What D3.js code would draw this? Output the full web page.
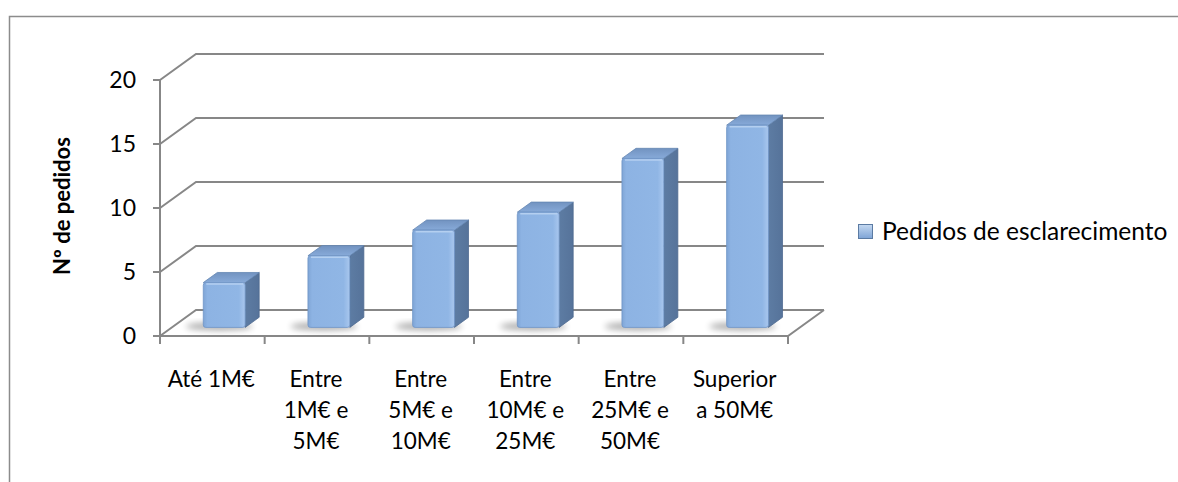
<!DOCTYPE html>
<html>
<head>
<meta charset="utf-8">
<script src="https://cdn.jsdelivr.net/npm/d3@7"></script>
<style>
  html, body { margin: 0; padding: 0; background: #fff; }
  svg { display: block; font-family: Lato, "Open Sans", sans-serif; }
</style>
</head>
<body>
<svg id="chart"></svg>
<script>
// data
const categories = ["Até 1M€", "Entre 1M€ e 5M€", "Entre 5M€ e 10M€", "Entre 10M€ e 25M€", "Entre 25M€ e 50M€", "Superior a 50M€"];
const categoryLines = [
    ["Até 1M€"],
    ["Entre", "1M€ e", "5M€"],
    ["Entre", "5M€ e", "10M€"],
    ["Entre", "10M€ e", "25M€"],
    ["Entre", "25M€ e", "50M€"],
    ["Superior", "a 50M€"],
];
const values = [3.5, 5.6, 7.6, 9.0, 13.2, 15.8];
const yTicks = [0, 5, 10, 15, 20];
const seriesName = "Pedidos de esclarecimento";
const yTitle = "Nº de pedidos";

const width = 1178;
const height = 482;
const gridColor = "#878787";

const svg = d3.select("#chart").attr("width", width).attr("height", height);

// chart area border (runs off the right and bottom edges)
svg.append("rect")
    .attr("x", 9.5).attr("y", 16.5)
    .attr("width", width + 20).attr("height", height + 20)
    .attr("fill", "#fff")
    .attr("stroke", "#8c8c8c")
    .attr("stroke-width", 1.5);

// scales: front plane + depth offset
const x = d3.scaleBand().domain(categories).range([160, 788]);
const y = d3.scaleLinear().domain([0, 20]).range([336, 80]);
const zx = d3.scaleLinear().domain([0, 1]).range([0, 36]);
const zy = d3.scaleLinear().domain([0, 1]).range([0, -26]);

const defs = svg.append("defs");

const frontGrad = defs.append("linearGradient").attr("id", "front").attr("x1", 0).attr("x2", 1).attr("y1", 0).attr("y2", 0);
frontGrad.append("stop").attr("offset", "0%").attr("stop-color", "#7fa5d6");
frontGrad.append("stop").attr("offset", "10%").attr("stop-color", "#8db3e3");
frontGrad.append("stop").attr("offset", "85%").attr("stop-color", "#90b6e5");
frontGrad.append("stop").attr("offset", "100%").attr("stop-color", "#a9c7ee");

const sideGrad = defs.append("linearGradient").attr("id", "side").attr("x1", 0).attr("x2", 1).attr("y1", 0).attr("y2", 0);
sideGrad.append("stop").attr("offset", "0%").attr("stop-color", "#5d7ca3");
sideGrad.append("stop").attr("offset", "100%").attr("stop-color", "#56739a");

const topGrad = defs.append("linearGradient").attr("id", "top").attr("x1", 0).attr("x2", 0).attr("y1", 1).attr("y2", 0);
topGrad.append("stop").attr("offset", "0%").attr("stop-color", "#87aad9");
topGrad.append("stop").attr("offset", "100%").attr("stop-color", "#7293c0");

const legGrad = defs.append("linearGradient").attr("id", "leg").attr("x1", 0).attr("x2", 0).attr("y1", 0).attr("y2", 1);
legGrad.append("stop").attr("offset", "0%").attr("stop-color", "#c5d9f1");
legGrad.append("stop").attr("offset", "100%").attr("stop-color", "#7ea4d6");

defs.append("filter").attr("id", "blur").attr("x", "-50%").attr("y", "-50%").attr("width", "200%").attr("height", "200%")
    .append("feGaussianBlur").attr("stdDeviation", 3);

const g = svg.append("g");

// back wall gridlines + left wall diagonals
yTicks.forEach(v => {
    const yf = y(v);
    g.append("path")
        .attr("d", `M${x.range()[0]},${yf} L${x.range()[0] + zx(1)},${yf + zy(1)} L${x.range()[1] + zx(1)},${yf + zy(1)}`)
        .attr("fill", "none")
        .attr("stroke", gridColor)
        .attr("stroke-width", 2);
});

// floor front and right edges
const x0 = x.range()[0], x1 = x.range()[1], y0 = y(0);
g.append("path")
    .attr("d", `M${x0},${y0} L${x1},${y0} L${x1 + zx(1)},${y0 + zy(1)}`)
    .attr("fill", "none")
    .attr("stroke", gridColor)
    .attr("stroke-width", 2);

// vertical axis line and ticks
g.append("line")
    .attr("x1", x0).attr("x2", x0)
    .attr("y1", y(20)).attr("y2", y0)
    .attr("stroke", gridColor).attr("stroke-width", 2);

g.selectAll(".ytick").data(yTicks).enter().append("line")
    .attr("x1", x0 - 7).attr("x2", x0)
    .attr("y1", d => y(d)).attr("y2", d => y(d))
    .attr("stroke", gridColor).attr("stroke-width", 2);

// category boundary ticks
const boundaries = categories.map(c => x(c)).concat([x1]);
g.selectAll(".xtick").data(boundaries).enter().append("line")
    .attr("x1", d => d).attr("x2", d => d)
    .attr("y1", y0).attr("y2", y0 + 8)
    .attr("stroke", gridColor).attr("stroke-width", 2);

// bars
const zFront = 0.33, zBack = 0.72;
const barW = x.bandwidth() * 0.4;
const bdx = zx(zBack) - zx(zFront), bdy = zy(zBack) - zy(zFront);

const bars = g.selectAll(".bar").data(values).enter().append("g").attr("class", "bar");

bars.each(function (v, i) {
    const bar = d3.select(this);
    const cx = x(categories[i]) + x.bandwidth() / 2 + zx(zFront);
    const xl = cx - barW / 2, xr = cx + barW / 2;
    const yb = y(0) + zy(zFront);
    const yt = y(v) + zy(zFront);

    // shadow on the floor
    bar.append("ellipse")
        .attr("cx", cx - 5).attr("cy", yb - 1)
        .attr("rx", barW * 0.8).attr("ry", 4)
        .attr("fill", "#000").attr("opacity", 0.32)
        .attr("filter", "url(#blur)");

    // side face
    bar.append("path")
        .attr("d", `M${xr},${yt} L${xr + bdx},${yt + bdy} L${xr + bdx},${yb + bdy} L${xr},${yb} Z`)
        .attr("fill", "url(#side)")
        .attr("stroke", "#4f6b90").attr("stroke-width", 0.8).attr("stroke-linejoin", "round");

    // top face
    bar.append("path")
        .attr("d", `M${xl},${yt} L${xr},${yt} L${xr + bdx},${yt + bdy} L${xl + bdx},${yt + bdy} Z`)
        .attr("fill", "url(#top)")
        .attr("stroke", "#6586b3").attr("stroke-width", 0.8).attr("stroke-linejoin", "round");

    // front face
    bar.append("rect")
        .attr("x", xl).attr("y", yt)
        .attr("width", barW).attr("height", yb - yt)
        .attr("rx", 2.5)
        .attr("fill", "url(#front)")
        .attr("stroke", "#6f94c6").attr("stroke-width", 0.8);

    // highlight along the top edge
    bar.append("line")
        .attr("x1", xl + 3).attr("x2", xr - 2)
        .attr("y1", yt + 1.5).attr("y2", yt + 1.5)
        .attr("stroke", "#b4cff0").attr("stroke-width", 1.5);
});

// y tick labels
svg.selectAll(".ylab").data(yTicks).enter().append("text")
    .attr("x", 136)
    .attr("y", d => y(d))
    .attr("dy", "0.36em")
    .attr("text-anchor", "end")
    .attr("font-size", 23)
    .attr("fill", "#000")
    .text(d => d);

// category labels
const labels = svg.selectAll(".xlab").data(categoryLines).enter().append("text")
    .attr("text-anchor", "middle")
    .attr("font-size", 22.5)
    .attr("fill", "#000");

labels.selectAll("tspan").data((d, i) => d.map(t => ({ t, i }))).enter().append("tspan")
    .attr("x", d => x(categories[d.i]) + x.bandwidth() / 2 - 1)
    .attr("y", (d, j) => 387 + j * 31)
    .text(d => d.t);

// y axis title
svg.append("text")
    .attr("transform", "translate(70,206) rotate(-90)")
    .attr("text-anchor", "middle")
    .attr("font-size", 22)
    .attr("font-weight", "bold")
    .attr("fill", "#000")
    .text(yTitle);

// legend
const legend = svg.append("g").attr("transform", "translate(858,224)");
legend.append("rect")
    .attr("x", 0.5).attr("y", 0.5)
    .attr("width", 14).attr("height", 14)
    .attr("fill", "url(#leg)")
    .attr("stroke", "#5b7ba3").attr("stroke-width", 1);
legend.append("text")
    .attr("x", 24)
    .attr("y", 7.5)
    .attr("dy", "0.36em")
    .attr("font-size", 24.5)
    .attr("fill", "#000")
    .text(seriesName);
</script>
</body>
</html>
